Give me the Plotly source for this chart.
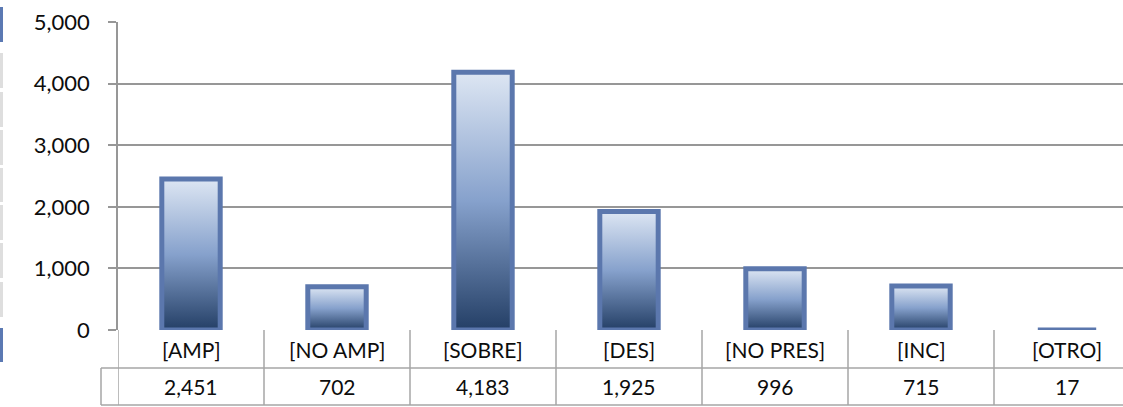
import plotly.graph_objects as go

# chart data
categories = ["[AMP]", "[NO AMP]", "[SOBRE]", "[DES]", "[NO PRES]", "[INC]", "[OTRO]"]
values = [2451, 702, 4183, 1925, 996, 715, 17]
y_ticks = [0, 1000, 2000, 3000, 4000, 5000]

W, H = 1123, 407
ML, MT, MB = 118, 22, 77
PLOT_H = H - MT - MB

FONT = "Lato"
TEXT = "#0d0d0d"
GRID = "#979797"
TABLE = "#a6a6a6"
BORDER = "#5b77ad"
BAR_W = 0.40


def py(pix):
    """pixel row -> paper y"""
    return (H - MB - pix) / PLOT_H


fig = go.Figure()

# each bar: vertical gradient fill (light on top, navy at the bottom) + thick outline
for i, (c, v) in enumerate(zip(categories, values)):
    fig.add_trace(go.Scatter(
        x=[i - BAR_W / 2, i + BAR_W / 2, i + BAR_W / 2, i - BAR_W / 2, i - BAR_W / 2],
        y=[0, 0, v, v, 0],
        mode="lines",
        line=dict(color=BORDER, width=5),
        fill="toself",
        fillgradient=dict(
            type="vertical",
            colorscale=[[0, "#243f66"], [0.5, "#86a1cc"], [1, "#dde6f3"]],
        ),
        name=c,
        hoveron="fills",
        showlegend=False,
    ))

shapes = []
# data table below the axis
for k in range(len(categories) + 1):
    shapes.append(dict(type="line", xref="x", yref="paper",
                       x0=k - 0.5, x1=k - 0.5, y0=0, y1=py(405),
                       line=dict(color=TABLE, width=1.5)))
for row in (368, 405):
    shapes.append(dict(type="line", xref="paper", yref="paper",
                       x0=-17 / (W - ML), x1=1, y0=py(row), y1=py(row),
                       line=dict(color=TABLE, width=1.5)))
shapes.append(dict(type="line", xref="paper", yref="paper",
                   x0=-17 / (W - ML), x1=-17 / (W - ML), y0=py(368), y1=py(405),
                   line=dict(color=TABLE, width=1.5)))

# cropped legend markers at the left edge
edge_marks = [(7, 42, "#5b79b3"), (53, 88, "#dedede"), (92, 127, "#dedede"),
              (130, 165, "#dedede"), (168, 202, "#dedede"), (205, 240, "#dedede"),
              (243, 278, "#dedede"), (282, 317, "#dedede"), (328, 362, "#5b79b3")]
for top, bot, col in edge_marks:
    shapes.append(dict(type="rect", xref="paper", yref="paper",
                       x0=-ML / (W - ML), x1=(3 - ML) / (W - ML),
                       y0=py(bot), y1=py(top),
                       fillcolor=col, line=dict(width=0)))

annotations = []
for i, (c, v) in enumerate(zip(categories, values)):
    annotations.append(dict(x=i, y=py(349), xref="x", yref="paper", text=c,
                            yanchor="middle", xanchor="center", showarrow=False,
                            font=dict(family=FONT, size=21, color=TEXT)))
    annotations.append(dict(x=i, y=py(386), xref="x", yref="paper", text=f"{v:,}",
                            yanchor="middle", xanchor="center", showarrow=False,
                            font=dict(family=FONT, size=21, color=TEXT)))

fig.update_layout(
    width=W, height=H,
    margin=dict(l=ML, r=0, t=MT, b=MB),
    paper_bgcolor="white", plot_bgcolor="white",
    shapes=shapes,
    annotations=annotations,
    xaxis=dict(range=[-0.5, 6.5 - 17 / 146], showticklabels=False, showgrid=False,
               zeroline=False, showline=False, fixedrange=True),
    yaxis=dict(range=[0, 5000], tickvals=y_ticks, tickformat=",",
               showgrid=True, gridcolor=GRID, gridwidth=1.5, zeroline=False,
               showline=True, linecolor=GRID, linewidth=1.5,
               ticks="outside", ticklen=8, tickcolor=GRID, tickwidth=1.5,
               ticklabelstandoff=14,
               tickfont=dict(family=FONT, size=22, color=TEXT), fixedrange=True,
               automargin=False),
)

# page body has a default 8px margin; drop it so the figure sits at the corner
fig.write_html("out.html", config={"displayModeBar": False},
               post_script="document.body.style.margin='0';")
